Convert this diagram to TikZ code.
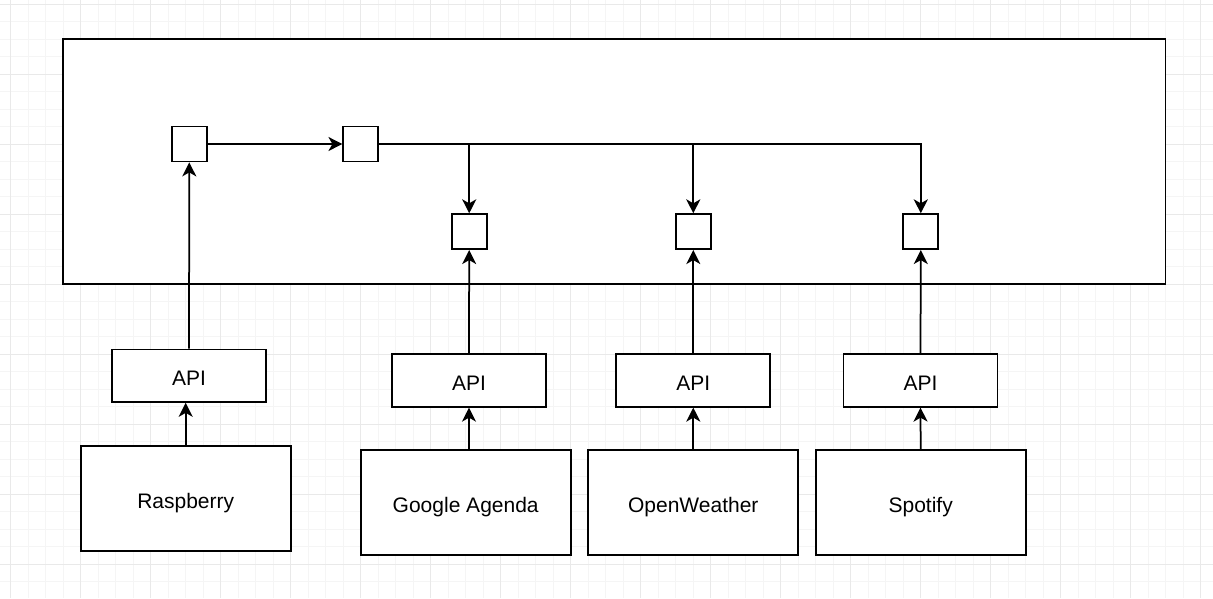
\documentclass[tikz,border=0pt]{standalone}
\usepackage{fontspec}
\setmainfont{Liberation Sans}
\usetikzlibrary{arrows.meta}
\definecolor{gridminor}{RGB}{245,245,245}
\definecolor{gridmajor}{RGB}{233,233,233}
\tikzset{
  box/.style={draw=black, line width=1.75pt, fill=white, inner sep=0pt, text height=19pt, text depth=0pt, font=\fontsize{21}{25}\selectfont},
  sq/.style={box, minimum width=35pt, minimum height=35pt},
  apibox/.style={box, minimum width=154pt, minimum height=52.5pt},
  srcbox/.style={box, minimum width=210pt, minimum height=105pt},
  conn/.style={line width=1.75pt, -{Stealth[length=14pt,width=14pt,inset=4pt]}},
}
\begin{document}
\begin{tikzpicture}[x=1pt, y=-1pt]
\useasboundingbox (0,0) rectangle (1213,598);
\fill[white] (0,0) rectangle (1213,598);
% grid
\foreach \k in {0,...,69} {
  \pgfmathsetmacro{\gx}{10.7+17.5*\k}
  \ifdim\gx pt<1213pt \draw[gridminor, line width=1pt] (\gx,0) -- (\gx,598); \fi
}
\foreach \k in {0,...,34} {
  \pgfmathsetmacro{\gy}{4.2+17.5*\k}
  \ifdim\gy pt<598pt \draw[gridminor, line width=1pt] (0,\gy) -- (1213,\gy); \fi
}
\foreach \k in {0,...,17} {
  \pgfmathsetmacro{\gx}{10.7+70*\k}
  \ifdim\gx pt<1213pt \draw[gridmajor, line width=1pt] (\gx,0) -- (\gx,598); \fi
}
\foreach \k in {0,...,8} {
  \pgfmathsetmacro{\gy}{4.2+70*\k}
  \ifdim\gy pt<598pt \draw[gridmajor, line width=1pt] (0,\gy) -- (1213,\gy); \fi
}
% container
\node[box, minimum width=1102.5pt, minimum height=245pt] (frame) at (614.2,161.3) {};
% small squares
\node[sq] (s1) at (189.3,144) {};
\node[sq] (s2) at (360.8,144) {};
\node[sq] (s3) at (469.2,231.7) {};
\node[sq] (s4) at (693.3,231.7) {};
\node[sq] (s5) at (920.8,231.7) {};
% API boxes
\node[apibox] (aR) at (189,375.7) {API};
\node[apibox] (aG) at (469,380.5) {API};
\node[apibox] (aO) at (693.3,380.5) {API};
\node[apibox] (aS) at (920.5,380.5) {API};
% sources
\node[srcbox] (rR) at (185.7,498.5) {Raspberry};
\node[srcbox] (rG) at (465.7,502.5) {Google Agenda};
\node[srcbox] (rO) at (693.3,502.5) {OpenWeather};
\node[srcbox] (rS) at (920.7,502.5) {Spotify};
% connectors
\draw[conn] (rR.north) -- (rR.north |- aR.south);
\draw[conn] (aG.south |- rG.north) -- (aG.south);
\draw[conn] (rO.north) -- (aO.south);
\draw[conn] (rS.north) -- (aS.south);
\draw[conn] (aR.north) -- (s1.south);
\draw[conn] (aG.north) -- (s3.south);
\draw[conn] (aO.north) -- (s4.south);
\draw[conn] (aS.north) -- (s5.south);
\draw[conn] (s1.east) -- (s2.west);
\draw[conn] (s2.east) -| (s3.north);
\draw[conn] (s2.east) -| (s4.north);
\draw[conn] (s2.east) -| (s5.north);
\end{tikzpicture}
\end{document}
